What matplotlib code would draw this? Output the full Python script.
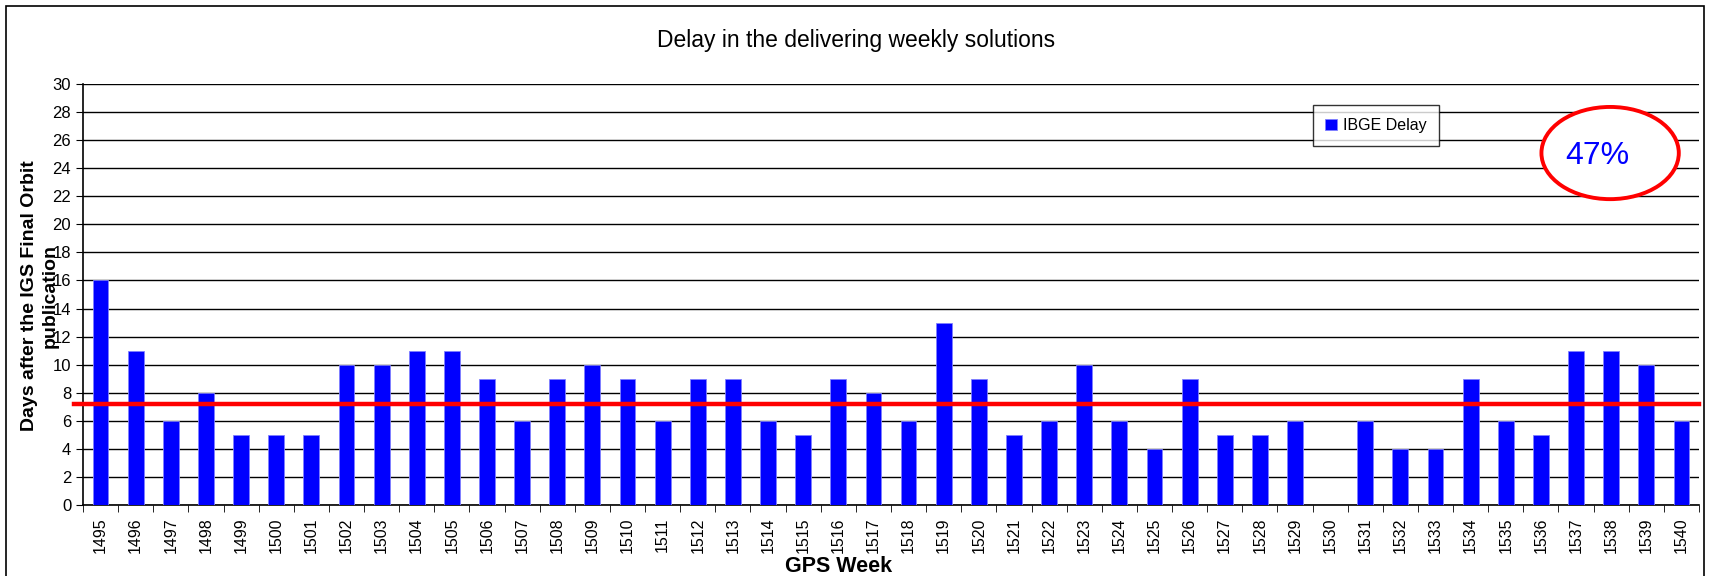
import numpy as np
import matplotlib
matplotlib.use("Agg")
from matplotlib import pyplot as plt
from matplotlib.patches import Ellipse, Rectangle

plt.rcParams['font.family'] = ['Liberation Sans', 'DejaVu Sans']

# data
weeks = list(range(1495, 1541))
delay = [16, 11, 6, 8, 5, 5, 5, 10, 10, 11, 11, 9, 6, 9, 10, 9, 6, 9, 9, 6,
         5, 9, 8, 6, 13, 9, 5, 6, 10, 6, 4, 9, 5, 5, 6, 0, 6, 4, 4, 9,
         6, 5, 11, 11, 10, 6]
meanLine = 7.2
pctText = "47%"

fig = plt.figure(figsize=(17.13, 5.76), dpi=100)
ax = fig.add_axes([83 / 1713, 1 - 505 / 576, 1616 / 1713, 421 / 576])

x = np.arange(len(weeks))
ax.bar(x, delay, width=0.45, color='#0000ff', edgecolor='#8080ff', linewidth=0.6,
       label='IBGE Delay', zorder=3)

ax.set_xlim(-0.5, len(weeks) - 0.5)
ax.set_ylim(0, 30)
ax.set_yticks(np.arange(0, 31, 2))
ax.yaxis.grid(True, color='black', linewidth=1.0, zorder=0)
ax.set_axisbelow(True)

ax.set_xticks(x)
ax.set_xticklabels([str(w) for w in weeks], rotation=90, fontsize=11.5)
ax.set_xticks(np.arange(-0.5, len(weeks), 1), minor=True)
ax.tick_params(axis='x', which='major', length=0, pad=9)
ax.tick_params(axis='x', which='minor', length=5, direction='out')
ax.tick_params(axis='y', labelsize=12, length=5, direction='out')

for side in ['top', 'right']:
    ax.spines[side].set_visible(False)
ax.spines['left'].set_linewidth(1.2)
ax.spines['bottom'].set_linewidth(1.2)

# mean line
ax.plot([-0.75, len(weeks) - 0.5], [meanLine, meanLine], color='#ff0000',
        linewidth=3.2, zorder=4, clip_on=False)

fig.text(0.5, 1 - 41 / 576, "Delay in the delivering weekly solutions",
         fontsize=16.5, ha='center', va='center')
fig.text(40 / 1713, 1 - 296 / 576, "Days after the IGS Final Orbit\npublication",
         fontsize=14, fontweight='bold', rotation=90, ha='center', va='center',
         linespacing=1.3)
fig.text(839 / 1713, 1 - 566 / 576, "GPS Week", fontsize=15.5, fontweight='bold',
         ha='center', va='center')

leg = ax.legend(loc='upper left', bbox_to_anchor=(0.756, 0.968), fontsize=11.5,
                frameon=True, fancybox=False, edgecolor='black', handlelength=0.7,
                handleheight=0.7, handletextpad=0.4, borderpad=0.8)
leg.get_frame().set_linewidth(1.0)

ell = Ellipse((0.945, 0.836), 0.085, 0.219, transform=ax.transAxes,
              facecolor='white', edgecolor='#ff0000', linewidth=2.8, zorder=5)
ax.add_patch(ell)
ax.text(0.937, 0.83, pctText, transform=ax.transAxes, ha='center', va='center',
        fontsize=23, color='#0000ff', zorder=6)

# outer frame of the chart area
fig.patches.append(Rectangle((6 / 1713, -0.01), 1698 / 1713, 1 - 6 / 576 + 0.01,
                             transform=fig.transFigure, fill=False,
                             edgecolor='black', linewidth=1.2))

fig.savefig("out.png", dpi=100)
